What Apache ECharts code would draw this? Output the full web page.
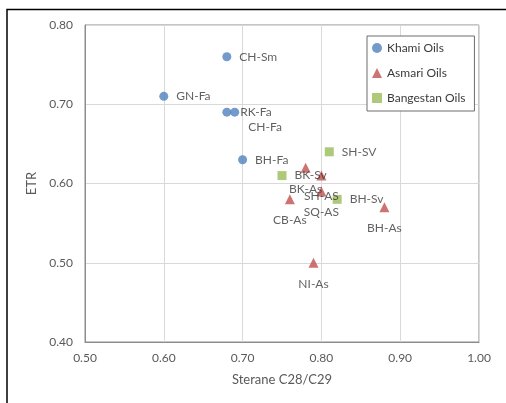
<!DOCTYPE html>
<html>
<head>
<meta charset="utf-8">
<script src="https://cdn.jsdelivr.net/npm/echarts@6/dist/echarts.min.js"></script>
<style>
  html, body { margin: 0; padding: 0; background: #fff; }
  #chart { width: 506px; height: 403px; }
</style>
</head>
<body>
<div id="chart"></div>
<script>
// Sample groups: names, Sterane C28/C29 ratio (x) and ETR (y)
const khamiNames = ['CH-Sm', 'GN-Fa', 'CH-Fa', 'RK-Fa', 'BH-Fa'];
const khamiX = [0.68, 0.60, 0.68, 0.69, 0.70];
const khamiY = [0.76, 0.71, 0.69, 0.69, 0.63];

const asmariNames = ['BK-As', 'SH-AS', 'SQ-AS', 'CB-As', 'BH-As', 'NI-As'];
const asmariX = [0.78, 0.80, 0.80, 0.76, 0.88, 0.79];
const asmariY = [0.62, 0.61, 0.59, 0.58, 0.57, 0.50];

const bangestanNames = ['SH-SV', 'BK-Sv', 'BH-Sv'];
const bangestanX = [0.81, 0.75, 0.82];
const bangestanY = [0.64, 0.61, 0.58];

const xTicks = ['0.50', '0.60', '0.70', '0.80', '0.90', '1.00'];
const yTicks = ['0.40', '0.50', '0.60', '0.70', '0.80'];

const seriesNames = ['Khami Oils', 'Asmari Oils', 'Bangestan Oils'];

// Hand-placed label tweaks for crowded points
const labelTweaks = {
  'CH-Fa': { offset: [9, 15] },
  'RK-Fa': { distance: 1 }
};

function points(names, xs, ys) {
  return names.map((n, i) => {
    const item = { name: n, value: [xs[i], ys[i]] };
    if (labelTweaks[n]) item.label = labelTweaks[n];
    return item;
  });
}

const FONT = 'Lato, "Liberation Sans", sans-serif';
const labelText = { color: '#3a3a3a', fontSize: 12, fontFamily: FONT };

const chart = echarts.init(document.getElementById('chart'), null, { renderer: 'canvas' });

chart.setOption({
  animation: false,
  backgroundColor: '#ffffff',
  graphic: [{
    type: 'rect',
    shape: { x: 7, y: 9.5, width: 520, height: 420 },
    style: { fill: 'none', stroke: '#000000', lineWidth: 1.5 },
    silent: true,
    z: 100
  }],
  grid: {
    left: 85, top: 25, width: 394, height: 317,
    show: true, borderColor: '#8c8c8c', borderWidth: 1, backgroundColor: 'transparent'
  },
  legend: {
    orient: 'vertical',
    left: 367, top: 36,
    padding: [5, 9, 6, 5],
    itemGap: 11,
    itemWidth: 10, itemHeight: 10,
    borderColor: '#6d6d6d', borderWidth: 1,
    backgroundColor: '#ffffff',
    textStyle: { color: '#3a3a3a', fontSize: 12, fontFamily: FONT, lineHeight: 14 },
    data: [
      { name: seriesNames[0], icon: 'circle' },
      { name: seriesNames[1], icon: 'triangle' },
      { name: seriesNames[2], icon: 'rect' }
    ]
  },
  xAxis: {
    type: 'value', min: 0.5, max: 1.0, interval: 0.1,
    name: 'Sterane C28/C29', nameLocation: 'middle', nameGap: 31,
    nameTextStyle: { color: '#595959', fontSize: 13, fontFamily: FONT },
    axisLine: { show: true, lineStyle: { color: '#8c8c8c' } },
    axisTick: { show: false },
    axisLabel: {
      color: '#595959', fontSize: 12, fontFamily: FONT, margin: 10,
      formatter: (v) => xTicks[Math.round((v - 0.5) * 10)] ?? ''
    },
    splitLine: { show: true, lineStyle: { color: '#d9d9d9' } }
  },
  yAxis: {
    type: 'value', min: 0.4, max: 0.8, interval: 0.1,
    name: 'ETR', nameLocation: 'middle', nameGap: 42,
    nameTextStyle: { color: '#595959', fontSize: 13, fontFamily: FONT },
    axisLine: { show: true, lineStyle: { color: '#8c8c8c' } },
    axisTick: { show: false },
    axisLabel: {
      color: '#595959', fontSize: 12, fontFamily: FONT, margin: 12,
      formatter: (v) => yTicks[Math.round((v - 0.4) * 10)] ?? ''
    },
    splitLine: { show: true, lineStyle: { color: '#d9d9d9' } }
  },
  series: [
    {
      name: seriesNames[0], type: 'scatter', symbol: 'circle', symbolSize: 9,
      itemStyle: { color: '#4F81BD' },
      label: Object.assign({ show: true, position: 'right', distance: 8, formatter: '{b}' }, labelText),
      data: points(khamiNames, khamiX, khamiY)
    },
    {
      name: seriesNames[1], type: 'scatter', symbol: 'triangle', symbolSize: 10,
      itemStyle: { color: '#C0504D' },
      label: Object.assign({ show: true, position: 'bottom', distance: 10, formatter: '{b}' }, labelText),
      data: points(asmariNames, asmariX, asmariY)
    },
    {
      name: seriesNames[2], type: 'scatter', symbol: 'rect', symbolSize: 9,
      itemStyle: { color: '#9BBB59' },
      label: Object.assign({ show: true, position: 'right', distance: 8, formatter: '{b}' }, labelText),
      data: points(bangestanNames, bangestanX, bangestanY)
    }
  ]
});
</script>
</body>
</html>
